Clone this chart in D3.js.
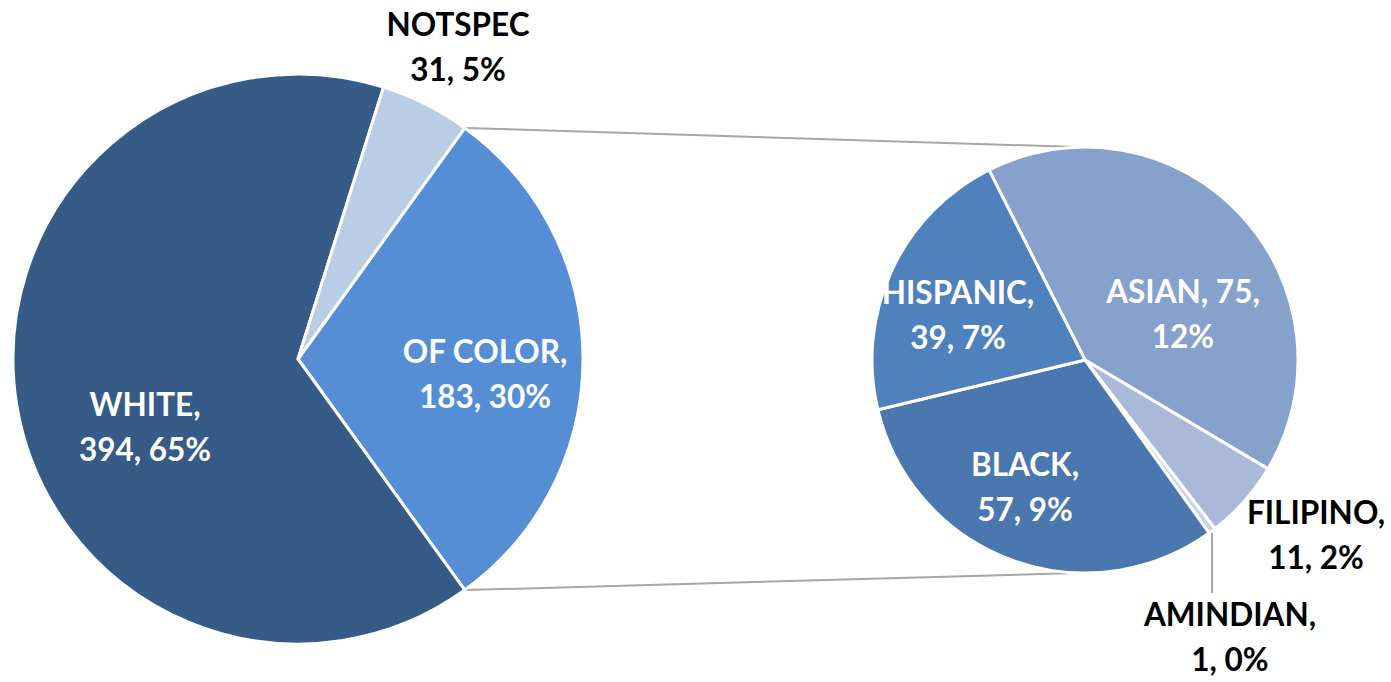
<!DOCTYPE html>
<html>
<head>
<meta charset="utf-8">
<script src="https://cdn.jsdelivr.net/npm/d3@7"></script>
<style>
  body { margin: 0; background: #fff; }
  svg text { font-family: Lato, "Open Sans", sans-serif; font-weight: bold; }
</style>
</head>
<body>
<svg id="graph" width="1391" height="682"></svg>
<script>
// Données
const categoriesMain = ["OF COLOR", "WHITE", "NOTSPEC"];
const valeursMain = [183, 394, 31];
const pourcentsMain = ["30%", "65%", "5%"];

const categoriesDetail = ["ASIAN", "FILIPINO", "AMINDIAN", "BLACK", "HISPANIC"];
const valeursDetail = [75, 11, 1, 57, 39];
const pourcentsDetail = ["12%", "2%", "0%", "9%", "7%"];

const couleursMain = ["#558ed5", "#365b86", "#b9cde5"];
const couleursDetail = ["#86a1cb", "#aab9d9", "#c8d3e8", "#4a77ae", "#4f81bd"];

const toRadians = degrees => degrees * (Math.PI / 180);

const svg = d3.select("#graph");

// Camembert principal
const cx1 = 298, cy1 = 359, r1 = 285;
// le secteur "OF COLOR" est centré à 3 heures
const angleOfColor = valeursMain[0] / d3.sum(valeursMain) * 2 * Math.PI;
const pieMain = d3.pie().sort(null)
  .startAngle(Math.PI / 2 - angleOfColor / 2)
  .endAngle(Math.PI / 2 - angleOfColor / 2 + 2 * Math.PI);
const arcsMain = pieMain(valeursMain);

// Camembert secondaire
const cx2 = 1085, cy2 = 360, r2 = 213;
const depart2 = toRadians(-26.8);
const pieDetail = d3.pie().sort(null)
  .startAngle(depart2)
  .endAngle(depart2 + 2 * Math.PI);
const arcsDetail = pieDetail(valeursDetail);

// Lignes de liaison
const arcOf = arcsMain[0];
const pt = (cx, cy, r, a) => [cx + r * Math.sin(a), cy - r * Math.cos(a)];
const haut = pt(cx1, cy1, r1, arcOf.startAngle);
const bas = pt(cx1, cy1, r1, arcOf.endAngle);
svg.append("line")
  .attr("x1", haut[0]).attr("y1", haut[1])
  .attr("x2", cx2 - 8).attr("y2", cy2 - r2)
  .attr("stroke", "#a6a6a6").attr("stroke-width", 2);
svg.append("line")
  .attr("x1", bas[0]).attr("y1", bas[1])
  .attr("x2", cx2 - 8).attr("y2", cy2 + r2)
  .attr("stroke", "#a6a6a6").attr("stroke-width", 2);

const arc1 = d3.arc().innerRadius(0).outerRadius(r1);
svg.append("g").attr("transform", `translate(${cx1},${cy1})`)
  .selectAll("path")
  .data(arcsMain)
  .enter().append("path")
  .attr("d", arc1)
  .attr("fill", (d, i) => couleursMain[i])
  .attr("stroke", "#fff")
  .attr("stroke-width", 3)
  .attr("stroke-linejoin", "round");

const arc2 = d3.arc().innerRadius(0).outerRadius(r2);
svg.append("g").attr("transform", `translate(${cx2},${cy2})`)
  .selectAll("path")
  .data(arcsDetail)
  .enter().append("path")
  .attr("d", arc2)
  .attr("fill", (d, i) => couleursDetail[i])
  .attr("stroke", "#fff")
  .attr("stroke-width", 3)
  .attr("stroke-linejoin", "round");

// Ligne de repère AMINDIAN
const aAm = (arcsDetail[2].startAngle + arcsDetail[2].endAngle) / 2;
const pAm = pt(cx2, cy2, r2, aAm);
svg.append("line")
  .attr("x1", pAm[0]).attr("y1", pAm[1] + 2)
  .attr("x2", pAm[0]).attr("y2", 593)
  .attr("stroke", "#a6a6a6").attr("stroke-width", 2);

// Étiquettes : [ligne1, ligne2, x, y, couleur]
const etiquettesMain = [
  [categoriesMain[0] + ",", valeursMain[0] + ", " + pourcentsMain[0], 485, 352, "#fff"],
  [categoriesMain[1] + ",", valeursMain[1] + ", " + pourcentsMain[1], 145, 405, "#fff"],
  [categoriesMain[2], valeursMain[2] + ", " + pourcentsMain[2], 458, 25, "#000"]
];
const etiquettesDetail = [
  [categoriesDetail[0] + ", " + valeursDetail[0] + ",", pourcentsDetail[0], 1183, 292, "#fff"],
  [categoriesDetail[1] + ",", valeursDetail[1] + ", " + pourcentsDetail[1], 1316, 513, "#000"],
  [categoriesDetail[2] + ",", valeursDetail[2] + ", " + pourcentsDetail[2], 1230, 615, "#000"],
  [categoriesDetail[3] + ",", valeursDetail[3] + ", " + pourcentsDetail[3], 1025, 465, "#fff"],
  [categoriesDetail[4] + ",", valeursDetail[4] + ", " + pourcentsDetail[4], 958, 293, "#fff"]
];

const lbl = svg.append("g").selectAll("text")
  .data(etiquettesMain.concat(etiquettesDetail))
  .enter().append("text")
  .attr("text-anchor", "middle")
  .attr("font-size", 31.5)
  .attr("fill", d => d[4]);
lbl.append("tspan").attr("x", d => d[2]).attr("y", d => d[3]).attr("dy", "0.35em").text(d => d[0]);
lbl.append("tspan").attr("x", d => d[2]).attr("y", d => d[3] + 45).attr("dy", "0.35em").text(d => d[1]);
</script>
</body>
</html>
